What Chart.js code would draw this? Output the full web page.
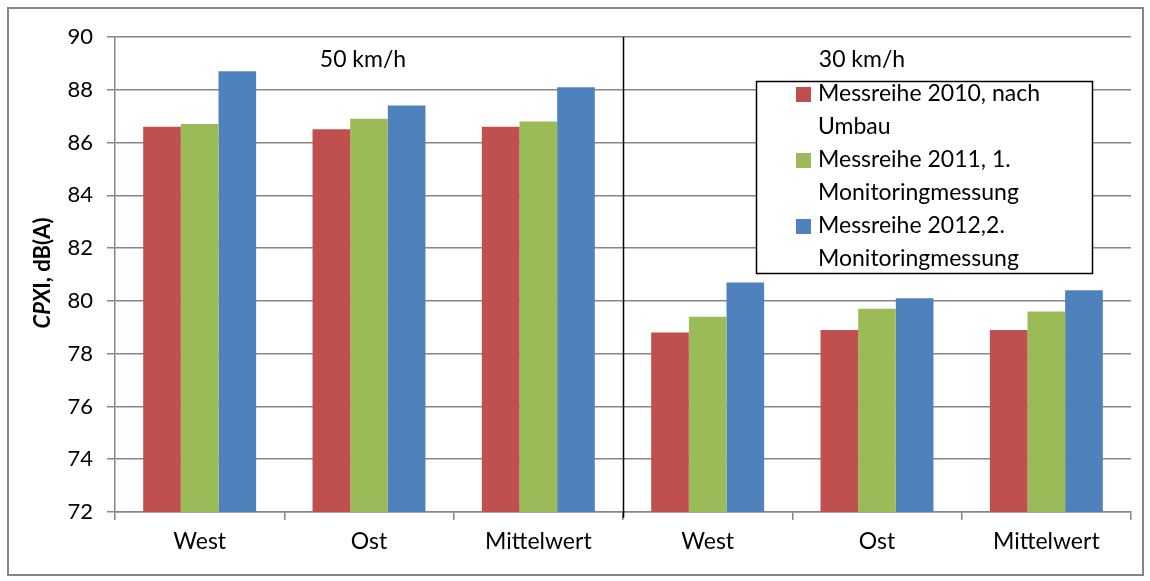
<!DOCTYPE html>
<html>
<head>
<meta charset="utf-8">
<script src="https://cdn.jsdelivr.net/npm/chart.js@4/dist/chart.umd.min.js"></script>
<style>
  html, body { margin: 0; padding: 0; background: #fff; }
  #wrap { width: 1150px; height: 581px; position: relative; }
</style>
</head>
<body>
<div id="wrap"><canvas id="cpxChart"></canvas></div>
<script>
// categories (two speed groups, three sites each)
const categories = ['West', 'Ost', 'Mittelwert', 'West', 'Ost', 'Mittelwert'];
const groupLabels = ['50 km/h', '30 km/h'];

// series values, CPXI in dB(A)
const serie2010 = [86.6, 86.5, 86.6, 78.8, 78.9, 78.9];
const serie2011 = [86.7, 86.9, 86.8, 79.4, 79.7, 79.6];
const serie2012 = [88.7, 87.4, 88.1, 80.7, 80.1, 80.4];

const seriesNames = ['Messreihe 2010, nach Umbau', 'Messreihe 2011, 1. Monitoringmessung', 'Messreihe 2012,2. Monitoringmessung'];
const legendLines = [['Messreihe 2010, nach', 'Umbau'], ['Messreihe 2011, 1.', 'Monitoringmessung'], ['Messreihe 2012,2.', 'Monitoringmessung']];

// y axis ticks
const yMin = 72, yMax = 90, yStep = 2;

const FONT = 'Lato, "Open Sans", sans-serif';
const colors = ['#C0504D', '#9BBB59', '#4F81BD'];

const extras = {
    id: 'extras',
    beforeDraw(chart) {
        const c = chart.ctx;
        c.save();
        c.fillStyle = '#fff';
        c.fillRect(0, 0, chart.width, chart.height);
        c.strokeStyle = '#868686';
        c.lineWidth = 2;
        c.strokeRect(8, 8, 1135, 567);
        c.restore();
    },
    afterDraw(chart) {
        const c = chart.ctx;
        const x = chart.scales.x, area = chart.chartArea;
        c.save();

        // divider between the two speed groups
        const xd = Math.round((x.getPixelForValue(2) + x.getPixelForValue(3)) / 2) + 0.5;
        c.strokeStyle = '#000';
        c.lineWidth = 1.5;
        c.beginPath();
        c.moveTo(xd, area.top);
        c.lineTo(xd, area.bottom + 6);
        c.stroke();

        // group labels
        c.fillStyle = '#000';
        c.font = '23px ' + FONT;
        c.textAlign = 'center';
        c.textBaseline = 'middle';
        c.fillText(groupLabels[0], x.getPixelForValue(1) - 6, 60);
        c.fillText(groupLabels[1], x.getPixelForValue(4) - 15, 60);

        // y axis title, "CPX" italic
        c.translate(43, 273);
        c.rotate(-Math.PI / 2);
        c.textAlign = 'left';
        const f1 = 'italic bold 22px ' + FONT, f2 = 'bold 22px ' + FONT;
        c.font = f1; const w1 = c.measureText('CPX').width;
        c.font = f2; const w2 = c.measureText('I, dB(A)').width;
        let sx = -(w1 + w2) / 2;
        c.font = f1; c.fillText('CPX', sx, 0);
        c.font = f2; c.fillText('I, dB(A)', sx + w1, 0);
        c.setTransform(1, 0, 0, 1, 0, 0);

        // legend box
        const lx = 756, ly = 81, lw = 336, lh = 192;
        c.fillStyle = '#fff';
        c.fillRect(lx, ly, lw, lh);
        c.strokeStyle = '#000';
        c.lineWidth = 1.5;
        c.strokeRect(lx + 0.5, ly + 0.5, lw, lh);
        c.font = '23px ' + FONT;
        c.textAlign = 'left';
        c.textBaseline = 'middle';
        let ty = ly + 13;
        legendLines.forEach((lines, i) => {
            c.fillStyle = colors[i];
            c.fillRect(lx + 40, ty - 7, 15, 15);
            c.fillStyle = '#000';
            lines.forEach(t => {
                c.fillText(t, lx + 62, ty);
                ty += 33;
            });
        });
        c.restore();
    }
};

const ctx = document.getElementById('cpxChart').getContext('2d');
const cpxChart = new Chart(ctx, {
    type: 'bar',
    data: {
        labels: categories,
        datasets: [
            { label: seriesNames[0], data: serie2010, backgroundColor: colors[0] },
            { label: seriesNames[1], data: serie2011, backgroundColor: colors[1] },
            { label: seriesNames[2], data: serie2012, backgroundColor: colors[2] }
        ]
    },
    options: {
        responsive: true,
        maintainAspectRatio: false,
        animation: false,
        devicePixelRatio: 1,
        layout: { padding: { top: 37, right: 19, left: 0, bottom: 0 } },
        datasets: {
            bar: { categoryPercentage: 0.667, barPercentage: 1, borderWidth: 0 }
        },
        plugins: {
            legend: { display: false },
            tooltip: { enabled: false }
        },
        scales: {
            x: {
                afterFit: s => { s.height = 69; },
                border: { color: '#868686', width: 1.5 },
                grid: { offset: true, drawOnChartArea: false, drawTicks: true, tickLength: 8, color: '#868686', lineWidth: 1.5 },
                ticks: { color: '#000', font: { family: FONT, size: 23 }, padding: 8, maxRotation: 0 }
            },
            y: {
                min: yMin,
                max: yMax,
                afterFit: s => { s.width = 115; },
                border: { color: '#868686', width: 1.5 },
                grid: { color: '#868686', lineWidth: 1.5, tickLength: 8 },
                ticks: { stepSize: yStep, color: '#000', font: { family: FONT, size: 22 }, padding: 14 }
            }
        }
    },
    plugins: [extras]
});
</script>
</body>
</html>
